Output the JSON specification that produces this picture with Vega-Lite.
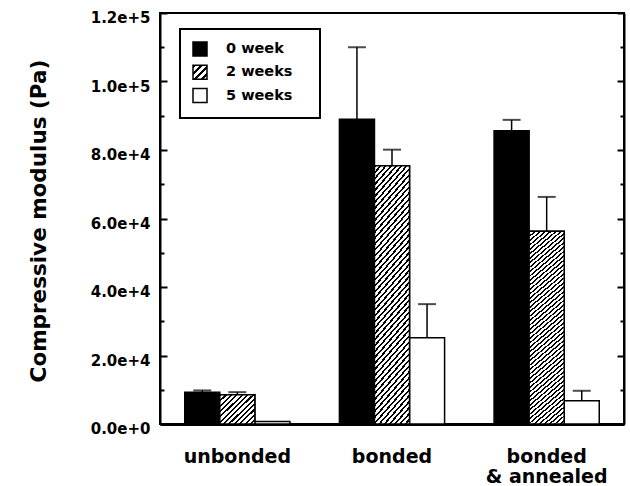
{
  "$schema": "https://vega.github.io/schema/vega-lite/v6.json",
  "autosize": "none",
  "width": 464,
  "height": 411,
  "padding": {"left": 160, "top": 13, "right": 6, "bottom": 62},
  "background": "white",
  "config": {
    "font": "DejaVu Sans",
    "view": {"stroke": "black", "strokeWidth": 2},
    "legend": {"strokeWidth": 2},
    "axis": {
      "labelFont": "DejaVu Sans",
      "labelFontWeight": "bold",
      "labelColor": "black",
      "titleFont": "DejaVu Sans",
      "titleFontWeight": "bold",
      "titleColor": "black",
      "domainColor": "black",
      "tickColor": "black",
      "grid": false
    }
  },
  "data": {
    "values": [
      {"group": "unbonded", "week": "0 week", "modulus": 9300, "upper": 9800},
      {"group": "unbonded", "week": "2 weeks", "modulus": 8550, "upper": 9300},
      {"group": "unbonded", "week": "5 weeks", "modulus": 700, "upper": null},
      {"group": "bonded", "week": "0 week", "modulus": 89000, "upper": 110000},
      {"group": "bonded", "week": "2 weeks", "modulus": 75400, "upper": 80100},
      {"group": "bonded", "week": "5 weeks", "modulus": 25200, "upper": 35000},
      {"group": "bonded & annealed", "week": "0 week", "modulus": 85600, "upper": 88800},
      {"group": "bonded & annealed", "week": "2 weeks", "modulus": 56300, "upper": 66300},
      {"group": "bonded & annealed", "week": "5 weeks", "modulus": 6800, "upper": 9700}
    ]
  },
  "encoding": {
    "x": {
      "field": "group",
      "type": "nominal",
      "sort": ["unbonded", "bonded", "bonded & annealed"],
      "scale": {"paddingInner": 0.32, "paddingOuter": 0.16},
      "axis": {
        "title": null,
        "ticks": false,
        "domainWidth": 3,
        "labelAngle": 0,
        "labelFontSize": 19,
        "labelPadding": 23,
        "labelBaseline": "top",
        "labelLineHeight": 20,
        "labelExpr": "datum.value === 'bonded & annealed' ? ['bonded', '& annealed'] : datum.label"
      }
    },
    "xOffset": {"field": "week", "type": "nominal", "sort": ["0 week", "2 weeks", "5 weeks"]}
  },
  "layer": [
    {
      "mark": {"type": "bar", "stroke": "black", "strokeWidth": 1.5},
      "encoding": {
        "y": {
          "field": "modulus",
          "type": "quantitative",
          "scale": {"domain": [0, 120000], "nice": false},
          "axis": {
            "title": "Compressive modulus (Pa)",
            "values": [0, 10000, 20000, 30000, 40000, 50000, 60000, 70000, 80000, 90000, 100000, 110000, 120000],
            "labelExpr": "datum.value % 20000 === 0 ? format(datum.value, '.1e') : ''",
            "labelOverlap": false,
            "labelBound": false,
            "tickSize": {"condition": {"test": "datum.value % 20000 === 0", "value": -7}, "value": -4},
            "tickWidth": 2,
            "domainWidth": 2,
            "labelFontSize": 15,
            "labelPadding": 17,
            "labelOffset": 4.5,
            "titleFontSize": 21.5,
            "titleX": -115,
            "titleY": 207.5,
            "titleAngle": 270,
            "titleAlign": "center",
            "titleBaseline": "alphabetic"
          }
        },
        "fill": {
          "field": "week",
          "type": "nominal",
          "sort": ["0 week", "2 weeks", "5 weeks"],
          "scale": {
            "domain": ["0 week", "2 weeks", "5 weeks"],
            "range": [
              "black",
              {"expr": "{gradient: 'linear', x1: 0, y1: 0, x2: 1, y2: 1, stops: [{offset: 0, color: '#000'}, {offset: 0.1, color: '#000'}, {offset: 0.1, color: '#fff'}, {offset: 0.25, color: '#fff'}, {offset: 0.25, color: '#000'}, {offset: 0.35, color: '#000'}, {offset: 0.35, color: '#fff'}, {offset: 0.5, color: '#fff'}, {offset: 0.5, color: '#000'}, {offset: 0.6, color: '#000'}, {offset: 0.6, color: '#fff'}, {offset: 0.75, color: '#fff'}, {offset: 0.75, color: '#000'}, {offset: 0.85, color: '#000'}, {offset: 0.85, color: '#fff'}, {offset: 1, color: '#fff'}]}"},
              "white"
            ]
          },
          "legend": {
            "title": null,
            "orient": "none",
            "legendX": 20,
            "legendY": 16,
            "direction": "vertical",
            "symbolType": "square",
            "symbolSize": 196,
            "symbolStrokeColor": "black",
            "symbolStrokeWidth": 1.5,
            "labelFont": "DejaVu Sans",
            "labelFontWeight": "bold",
            "labelFontSize": 14.5,
            "labelColor": "black",
            "labelOffset": 18,
            "rowPadding": 3.3,
            "padding": 12,
            "strokeColor": "black",
            "labelExpr": "datum.label + '\u00a0\u00a0\u00a0\u200b'"
          }
        }
      }
    },
    {
      "transform": [{"filter": "datum.week === '2 weeks'"}],
      "mark": {"type": "bar", "stroke": "black", "strokeWidth": 1.5},
      "encoding": {
        "y": {"field": "modulus", "type": "quantitative", "axis": null},
        "fill": {
          "condition": {
            "test": "datum.group === 'unbonded'",
            "value": {
              "gradient": "linear", "x1": 0, "y1": 0, "x2": 1.072, "y2": 0.916,
              "stops": [
                {"offset": 0, "color": "#000"}, {"offset": 0.0333, "color": "#000"}, {"offset": 0.0333, "color": "#fff"}, {"offset": 0.0833, "color": "#fff"},
                {"offset": 0.0833, "color": "#000"}, {"offset": 0.1167, "color": "#000"}, {"offset": 0.1167, "color": "#fff"}, {"offset": 0.1667, "color": "#fff"},
                {"offset": 0.1667, "color": "#000"}, {"offset": 0.2, "color": "#000"}, {"offset": 0.2, "color": "#fff"}, {"offset": 0.25, "color": "#fff"},
                {"offset": 0.25, "color": "#000"}, {"offset": 0.2833, "color": "#000"}, {"offset": 0.2833, "color": "#fff"}, {"offset": 0.3333, "color": "#fff"},
                {"offset": 0.3333, "color": "#000"}, {"offset": 0.3667, "color": "#000"}, {"offset": 0.3667, "color": "#fff"}, {"offset": 0.4167, "color": "#fff"},
                {"offset": 0.4167, "color": "#000"}, {"offset": 0.45, "color": "#000"}, {"offset": 0.45, "color": "#fff"}, {"offset": 0.5, "color": "#fff"},
                {"offset": 0.5, "color": "#000"}, {"offset": 0.5333, "color": "#000"}, {"offset": 0.5333, "color": "#fff"}, {"offset": 0.5833, "color": "#fff"},
                {"offset": 0.5833, "color": "#000"}, {"offset": 0.6167, "color": "#000"}, {"offset": 0.6167, "color": "#fff"}, {"offset": 0.6667, "color": "#fff"},
                {"offset": 0.6667, "color": "#000"}, {"offset": 0.7, "color": "#000"}, {"offset": 0.7, "color": "#fff"}, {"offset": 0.75, "color": "#fff"},
                {"offset": 0.75, "color": "#000"}, {"offset": 0.7833, "color": "#000"}, {"offset": 0.7833, "color": "#fff"}, {"offset": 0.8333, "color": "#fff"},
                {"offset": 0.8333, "color": "#000"}, {"offset": 0.8667, "color": "#000"}, {"offset": 0.8667, "color": "#fff"}, {"offset": 0.9167, "color": "#fff"},
                {"offset": 0.9167, "color": "#000"}, {"offset": 0.95, "color": "#000"}, {"offset": 0.95, "color": "#fff"}, {"offset": 1, "color": "#fff"}
              ]
            }
          },
          "value": {
            "gradient": "linear", "x1": 0, "y1": 0, "x2": 0.175, "y2": 1.128,
            "stops": [
              {"offset": 0, "color": "#000"}, {"offset": 0.008, "color": "#000"}, {"offset": 0.008, "color": "#fff"}, {"offset": 0.02, "color": "#fff"},
              {"offset": 0.02, "color": "#000"}, {"offset": 0.028, "color": "#000"}, {"offset": 0.028, "color": "#fff"}, {"offset": 0.04, "color": "#fff"},
              {"offset": 0.04, "color": "#000"}, {"offset": 0.048, "color": "#000"}, {"offset": 0.048, "color": "#fff"}, {"offset": 0.06, "color": "#fff"},
              {"offset": 0.06, "color": "#000"}, {"offset": 0.068, "color": "#000"}, {"offset": 0.068, "color": "#fff"}, {"offset": 0.08, "color": "#fff"},
              {"offset": 0.08, "color": "#000"}, {"offset": 0.088, "color": "#000"}, {"offset": 0.088, "color": "#fff"}, {"offset": 0.1, "color": "#fff"},
              {"offset": 0.1, "color": "#000"}, {"offset": 0.108, "color": "#000"}, {"offset": 0.108, "color": "#fff"}, {"offset": 0.12, "color": "#fff"},
              {"offset": 0.12, "color": "#000"}, {"offset": 0.128, "color": "#000"}, {"offset": 0.128, "color": "#fff"}, {"offset": 0.14, "color": "#fff"},
              {"offset": 0.14, "color": "#000"}, {"offset": 0.148, "color": "#000"}, {"offset": 0.148, "color": "#fff"}, {"offset": 0.16, "color": "#fff"},
              {"offset": 0.16, "color": "#000"}, {"offset": 0.168, "color": "#000"}, {"offset": 0.168, "color": "#fff"}, {"offset": 0.18, "color": "#fff"},
              {"offset": 0.18, "color": "#000"}, {"offset": 0.188, "color": "#000"}, {"offset": 0.188, "color": "#fff"}, {"offset": 0.2, "color": "#fff"},
              {"offset": 0.2, "color": "#000"}, {"offset": 0.208, "color": "#000"}, {"offset": 0.208, "color": "#fff"}, {"offset": 0.22, "color": "#fff"},
              {"offset": 0.22, "color": "#000"}, {"offset": 0.228, "color": "#000"}, {"offset": 0.228, "color": "#fff"}, {"offset": 0.24, "color": "#fff"},
              {"offset": 0.24, "color": "#000"}, {"offset": 0.248, "color": "#000"}, {"offset": 0.248, "color": "#fff"}, {"offset": 0.26, "color": "#fff"},
              {"offset": 0.26, "color": "#000"}, {"offset": 0.268, "color": "#000"}, {"offset": 0.268, "color": "#fff"}, {"offset": 0.28, "color": "#fff"},
              {"offset": 0.28, "color": "#000"}, {"offset": 0.288, "color": "#000"}, {"offset": 0.288, "color": "#fff"}, {"offset": 0.3, "color": "#fff"},
              {"offset": 0.3, "color": "#000"}, {"offset": 0.308, "color": "#000"}, {"offset": 0.308, "color": "#fff"}, {"offset": 0.32, "color": "#fff"},
              {"offset": 0.32, "color": "#000"}, {"offset": 0.328, "color": "#000"}, {"offset": 0.328, "color": "#fff"}, {"offset": 0.34, "color": "#fff"},
              {"offset": 0.34, "color": "#000"}, {"offset": 0.348, "color": "#000"}, {"offset": 0.348, "color": "#fff"}, {"offset": 0.36, "color": "#fff"},
              {"offset": 0.36, "color": "#000"}, {"offset": 0.368, "color": "#000"}, {"offset": 0.368, "color": "#fff"}, {"offset": 0.38, "color": "#fff"},
              {"offset": 0.38, "color": "#000"}, {"offset": 0.388, "color": "#000"}, {"offset": 0.388, "color": "#fff"}, {"offset": 0.4, "color": "#fff"},
              {"offset": 0.4, "color": "#000"}, {"offset": 0.408, "color": "#000"}, {"offset": 0.408, "color": "#fff"}, {"offset": 0.42, "color": "#fff"},
              {"offset": 0.42, "color": "#000"}, {"offset": 0.428, "color": "#000"}, {"offset": 0.428, "color": "#fff"}, {"offset": 0.44, "color": "#fff"},
              {"offset": 0.44, "color": "#000"}, {"offset": 0.448, "color": "#000"}, {"offset": 0.448, "color": "#fff"}, {"offset": 0.46, "color": "#fff"},
              {"offset": 0.46, "color": "#000"}, {"offset": 0.468, "color": "#000"}, {"offset": 0.468, "color": "#fff"}, {"offset": 0.48, "color": "#fff"},
              {"offset": 0.48, "color": "#000"}, {"offset": 0.488, "color": "#000"}, {"offset": 0.488, "color": "#fff"}, {"offset": 0.5, "color": "#fff"},
              {"offset": 0.5, "color": "#000"}, {"offset": 0.508, "color": "#000"}, {"offset": 0.508, "color": "#fff"}, {"offset": 0.52, "color": "#fff"},
              {"offset": 0.52, "color": "#000"}, {"offset": 0.528, "color": "#000"}, {"offset": 0.528, "color": "#fff"}, {"offset": 0.54, "color": "#fff"},
              {"offset": 0.54, "color": "#000"}, {"offset": 0.548, "color": "#000"}, {"offset": 0.548, "color": "#fff"}, {"offset": 0.56, "color": "#fff"},
              {"offset": 0.56, "color": "#000"}, {"offset": 0.568, "color": "#000"}, {"offset": 0.568, "color": "#fff"}, {"offset": 0.58, "color": "#fff"},
              {"offset": 0.58, "color": "#000"}, {"offset": 0.588, "color": "#000"}, {"offset": 0.588, "color": "#fff"}, {"offset": 0.6, "color": "#fff"},
              {"offset": 0.6, "color": "#000"}, {"offset": 0.608, "color": "#000"}, {"offset": 0.608, "color": "#fff"}, {"offset": 0.62, "color": "#fff"},
              {"offset": 0.62, "color": "#000"}, {"offset": 0.628, "color": "#000"}, {"offset": 0.628, "color": "#fff"}, {"offset": 0.64, "color": "#fff"},
              {"offset": 0.64, "color": "#000"}, {"offset": 0.648, "color": "#000"}, {"offset": 0.648, "color": "#fff"}, {"offset": 0.66, "color": "#fff"},
              {"offset": 0.66, "color": "#000"}, {"offset": 0.668, "color": "#000"}, {"offset": 0.668, "color": "#fff"}, {"offset": 0.68, "color": "#fff"},
              {"offset": 0.68, "color": "#000"}, {"offset": 0.688, "color": "#000"}, {"offset": 0.688, "color": "#fff"}, {"offset": 0.7, "color": "#fff"},
              {"offset": 0.7, "color": "#000"}, {"offset": 0.708, "color": "#000"}, {"offset": 0.708, "color": "#fff"}, {"offset": 0.72, "color": "#fff"},
              {"offset": 0.72, "color": "#000"}, {"offset": 0.728, "color": "#000"}, {"offset": 0.728, "color": "#fff"}, {"offset": 0.74, "color": "#fff"},
              {"offset": 0.74, "color": "#000"}, {"offset": 0.748, "color": "#000"}, {"offset": 0.748, "color": "#fff"}, {"offset": 0.76, "color": "#fff"},
              {"offset": 0.76, "color": "#000"}, {"offset": 0.768, "color": "#000"}, {"offset": 0.768, "color": "#fff"}, {"offset": 0.78, "color": "#fff"},
              {"offset": 0.78, "color": "#000"}, {"offset": 0.788, "color": "#000"}, {"offset": 0.788, "color": "#fff"}, {"offset": 0.8, "color": "#fff"},
              {"offset": 0.8, "color": "#000"}, {"offset": 0.808, "color": "#000"}, {"offset": 0.808, "color": "#fff"}, {"offset": 0.82, "color": "#fff"},
              {"offset": 0.82, "color": "#000"}, {"offset": 0.828, "color": "#000"}, {"offset": 0.828, "color": "#fff"}, {"offset": 0.84, "color": "#fff"},
              {"offset": 0.84, "color": "#000"}, {"offset": 0.848, "color": "#000"}, {"offset": 0.848, "color": "#fff"}, {"offset": 0.86, "color": "#fff"},
              {"offset": 0.86, "color": "#000"}, {"offset": 0.868, "color": "#000"}, {"offset": 0.868, "color": "#fff"}, {"offset": 0.88, "color": "#fff"},
              {"offset": 0.88, "color": "#000"}, {"offset": 0.888, "color": "#000"}, {"offset": 0.888, "color": "#fff"}, {"offset": 0.9, "color": "#fff"},
              {"offset": 0.9, "color": "#000"}, {"offset": 0.908, "color": "#000"}, {"offset": 0.908, "color": "#fff"}, {"offset": 0.92, "color": "#fff"},
              {"offset": 0.92, "color": "#000"}, {"offset": 0.928, "color": "#000"}, {"offset": 0.928, "color": "#fff"}, {"offset": 0.94, "color": "#fff"},
              {"offset": 0.94, "color": "#000"}, {"offset": 0.948, "color": "#000"}, {"offset": 0.948, "color": "#fff"}, {"offset": 0.96, "color": "#fff"},
              {"offset": 0.96, "color": "#000"}, {"offset": 0.968, "color": "#000"}, {"offset": 0.968, "color": "#fff"}, {"offset": 0.98, "color": "#fff"},
              {"offset": 0.98, "color": "#000"}, {"offset": 0.988, "color": "#000"}, {"offset": 0.988, "color": "#fff"}, {"offset": 1, "color": "#fff"}
            ]
          }
        }
      }
    },
    {
      "transform": [{"filter": "datum.upper != null"}],
      "mark": {"type": "rule", "color": "black", "strokeWidth": 1.5},
      "encoding": {
        "y": {
          "field": "modulus",
          "type": "quantitative",
          "axis": {
            "orient": "right",
            "title": null,
            "labels": false,
            "values": [0, 10000, 20000, 30000, 40000, 50000, 60000, 70000, 80000, 90000, 100000, 110000, 120000],
            "tickSize": {"condition": {"test": "datum.value % 20000 === 0", "value": -7}, "value": -4},
            "tickWidth": 2,
            "domainWidth": 2
          }
        },
        "y2": {"field": "upper"}
      }
    },
    {
      "transform": [{"filter": "datum.upper != null"}],
      "mark": {"type": "tick", "color": "black", "size": 18, "thickness": 2},
      "encoding": {
        "y": {"field": "upper", "type": "quantitative", "axis": null}
      }
    }
  ],
  "resolve": {"axis": {"y": "independent"}}
}
